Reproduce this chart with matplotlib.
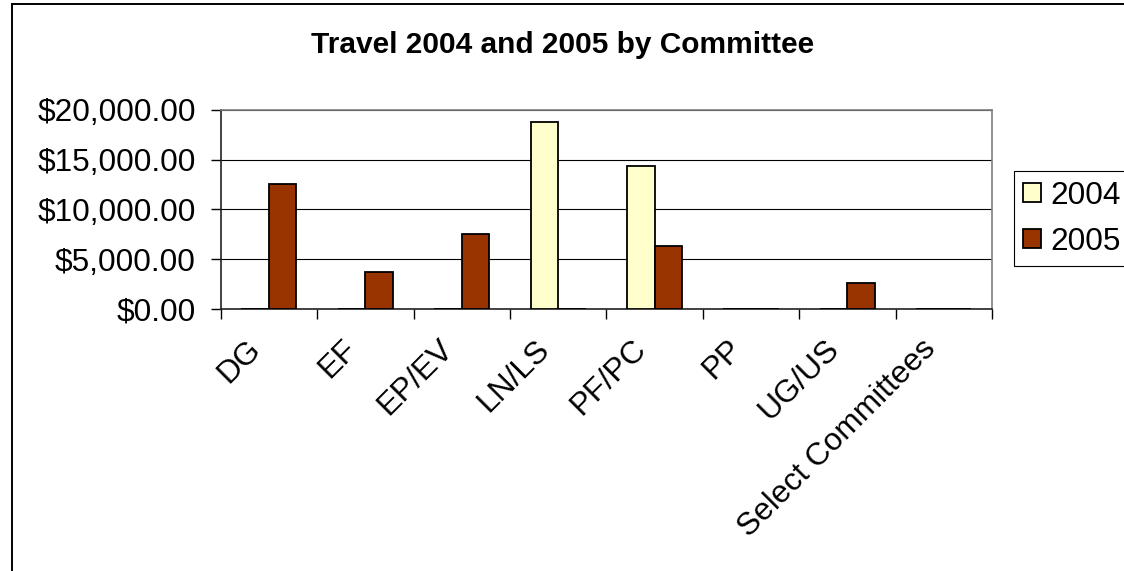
import matplotlib
matplotlib.use("Agg")
import matplotlib.pyplot as plt
import numpy as np
from matplotlib.lines import Line2D
from matplotlib.transforms import ScaledTranslation
from matplotlib.ticker import FuncFormatter

plt.rcParams['font.family'] = ['Liberation Sans', 'DejaVu Sans']

categories = ["DG", "EF", "EP/EV", "LN/LS", "PF/PC", "PP", "UG/US", "Select Committees"]
travel_2004 = [0, 0, 0, 18750, 14400, 0, 0, 0]
travel_2005 = [12600, 3700, 7500, 0, 6350, 0, 2600, 0]
series_names = ["2004", "2005"]
y_ticks = [0, 5000, 10000, 15000, 20000]

W, H = 1124, 571
fig = plt.figure(figsize=(W / 100, H / 100), dpi=100)
fig.patch.set_facecolor("white")

ax_l, ax_r, ax_t, ax_b = 220.7, 992.0, 110.0, 308.7
ax = fig.add_axes([ax_l / W, 1 - ax_b / H, (ax_r - ax_l) / W, (ax_b - ax_t) / H])

FS = 22.8
bw = 1 / 3.5
x = np.arange(len(categories)) + 0.5
ax.bar(x - bw / 2, travel_2004, width=bw, color="#FFFFCC", edgecolor="black",
       linewidth=1.3, label=series_names[0], zorder=3)
ax.bar(x + bw / 2, travel_2005, width=bw, color="#993300", edgecolor="black",
       linewidth=1.3, label=series_names[1], zorder=3)

ax.set_xlim(0, len(categories))
ax.set_ylim(0, 20000)
ax.set_yticks(y_ticks)
ax.yaxis.set_major_formatter(FuncFormatter(lambda v, p: "${:,.2f}".format(v)))
ax.grid(axis="y", color="black", linewidth=0.8, zorder=1)
ax.set_axisbelow(True)

ax.set_xticks(x)
ax.set_xticklabels(categories, rotation=45, ha="right", va="center",
                   rotation_mode="anchor", fontsize=FS)
ax.set_xticks(np.arange(len(categories) + 1), minor=True)
ax.tick_params(axis="x", which="major", length=0, pad=26)
ax.tick_params(axis="x", which="minor", length=7, width=1, color="black", direction="out")
ax.tick_params(axis="y", length=7, width=1, color="black", direction="out", pad=11, labelsize=FS)
off = ScaledTranslation(-13 / 100, 0, fig.dpi_scale_trans)
for lab in ax.get_xticklabels():
    lab.set_transform(lab.get_transform() + off)

for s in ["left", "bottom"]:
    ax.spines[s].set_color("#222222")
    ax.spines[s].set_linewidth(1.2)
for s in ["top", "right"]:
    ax.spines[s].set_color("#808080")
    ax.spines[s].set_linewidth(1.2)

fig.text(563 / W, 1 - 53.3 / H, "Travel 2004 and 2005 by Committee",
         ha="center", va="baseline", fontsize=21.5, fontweight="bold")

leg = ax.legend(loc="upper left", bbox_to_anchor=(1013.7 / W, 1 - 171.3 / H),
                bbox_transform=fig.transFigure, fontsize=FS, frameon=True,
                fancybox=False, edgecolor="black", framealpha=1,
                handlelength=0.57, handleheight=0.57, handletextpad=0.3,
                borderpad=0.3, labelspacing=0.5, borderaxespad=0)
leg.get_frame().set_linewidth(0.8)

# outer chart border (left and top visible)
fig.add_artist(Line2D([12 / W, 12 / W], [0, 1 - 4 / H], color="black", linewidth=1.4,
                      transform=fig.transFigure))
fig.add_artist(Line2D([12 / W, 1], [1 - 4 / H, 1 - 4 / H], color="black", linewidth=1.4,
                      transform=fig.transFigure))

fig.savefig("out.png", dpi=100)
